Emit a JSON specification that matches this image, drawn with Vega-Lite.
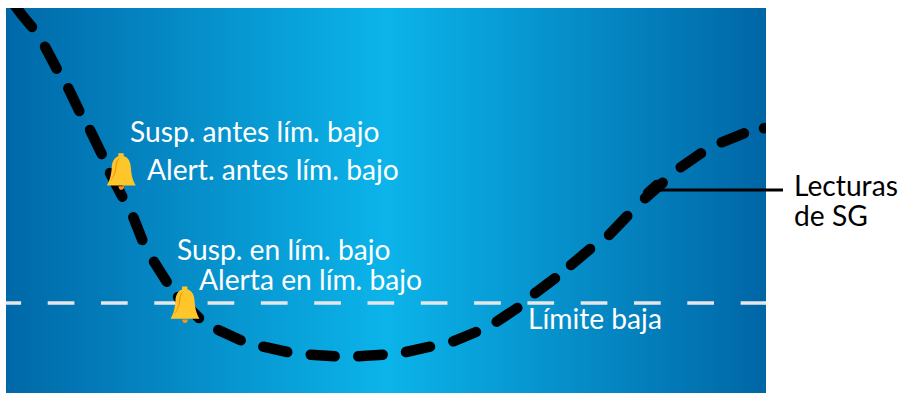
{
"$schema":"https://vega.github.io/schema/vega-lite/v6.json",
"width":760,"height":385,
"autosize":{"type":"none"},
"padding":{"left":6,"top":8,"right":135,"bottom":0},
"background":"#ffffff",
"config":{"view":{"stroke":null}},
"datasets":{
"fondo":[{"x":0,"x2":760,"y":0,"y2":385}],
"limite":[{"x":0,"y":90},{"x":760,"y":90}],
"conector":[{"x":651,"x2":777,"y":203}],
"campanas":[{"x":115.3,"y":221.3},{"x":179,"y":88}],
"blanco":[
{"x":124,"y":251,"t":"Susp. antes lím. bajo"},
{"x":141,"y":213,"t":"Alert. antes lím. bajo"},
{"x":171,"y":133,"t":"Susp. en lím. bajo"},
{"x":193,"y":103,"t":"Alerta en lím. bajo"},
{"x":522,"y":64,"t":"Límite baja"}],
"negro":[
{"x":788,"y":197,"t":"Lecturas"},
{"x":788,"y":167,"t":"de SG"}],
"sg":[
{"d":1,"x":7,"y":390},{"d":1,"x":16,"y":378},{"d":1,"x":26,"y":366},
{"d":2,"x":39,"y":346.3},{"d":2,"x":50.7,"y":324.3},
{"d":3,"x":62.3,"y":304.7},{"d":3,"x":73.3,"y":282},
{"d":4,"x":84,"y":263},{"d":4,"x":95.7,"y":239},
{"d":5,"x":104,"y":220},{"d":5,"x":116.3,"y":196.3},
{"d":6,"x":127.3,"y":175.7},{"d":6,"x":136.3,"y":153},
{"d":7,"x":148,"y":131.3},{"d":7,"x":160.7,"y":111.3},
{"d":8,"x":172,"y":96},{"d":8,"x":193,"y":75},
{"d":9,"x":212.3,"y":63},{"d":9,"x":234.7,"y":52.7},
{"d":10,"x":257.3,"y":46.3},{"d":10,"x":281.3,"y":41},
{"d":11,"x":304.7,"y":38.3},{"d":11,"x":328.7,"y":36.7},
{"d":12,"x":352.3,"y":36.7},{"d":12,"x":376.7,"y":38.3},
{"d":13,"x":400,"y":41},{"d":13,"x":424,"y":46.3},
{"d":14,"x":447.3,"y":51.7},{"d":14,"x":470,"y":61},
{"d":15,"x":490.7,"y":71.3},{"d":15,"x":511.3,"y":85},
{"d":16,"x":529,"y":99.7},{"d":16,"x":549,"y":114.7},
{"d":17,"x":565,"y":128},{"d":17,"x":584,"y":144},
{"d":18,"x":603,"y":158},{"d":18,"x":621.3,"y":177},
{"d":19,"x":639,"y":194.7},{"d":19,"x":656.7,"y":210.3},
{"d":23,"x":642,"y":200},{"d":23,"x":651,"y":208},
{"d":20,"x":674.7,"y":225.7},{"d":20,"x":695,"y":239.7},
{"d":21,"x":715.7,"y":250.7},{"d":21,"x":738,"y":259.7},
{"d":22,"x":758,"y":264.7},{"d":22,"x":770,"y":266}
]
},
"encoding":{
"x":{"field":"x","type":"quantitative","axis":null,"scale":{"domain":[0,760],"nice":false,"zero":false}},
"y":{"field":"y","type":"quantitative","axis":null,"scale":{"domain":[0,385],"nice":false,"zero":false}}
},
"layer":[
{"data":{"name":"fondo"},
 "mark":{"type":"rect","color":{"gradient":"linear","x1":0,"y1":0,"x2":1,"y2":0,"stops":[{"offset":0,"color":"#0068A8"},{"offset":0.5,"color":"#0BB4EA"},{"offset":1,"color":"#0066A6"}]}},
 "encoding":{"x2":{"field":"x2"},"y2":{"field":"y2"}}},
{"data":{"name":"limite"},
 "mark":{"type":"line","color":"#E6E6E6","strokeWidth":3.6,"strokeDash":[26.7,26.6],"strokeDashOffset":11.6,"clip":true}},
{"data":{"name":"sg"},
 "mark":{"type":"line","color":"#000000","strokeWidth":10.5,"strokeCap":"round","clip":true},
 "encoding":{"detail":{"field":"d","type":"nominal"}}},
{"data":{"name":"conector"},
 "mark":{"type":"rule","color":"#000000","strokeWidth":3.2},
 "encoding":{"x2":{"field":"x2"}}},
{"data":{"name":"campanas"},
 "mark":{"type":"point","filled":true,"opacity":1,"size":1369,"color":"#FFC629","shape":"M-0.16 -1 L0.13 -1 L0.13 -0.82 L-0.16 -0.82 Z M-0.78 0.74 C-0.62 0.45 -0.54 0.2 -0.52 -0.2 C-0.5 -0.64 -0.29 -0.86 0 -0.86 C0.29 -0.86 0.5 -0.64 0.52 -0.2 C0.54 0.2 0.62 0.45 0.78 0.74 Z"}},
{"data":{"name":"campanas"},
 "mark":{"type":"point","filled":true,"opacity":1,"size":1369,"color":"#F7941D","shape":"M-0.62 0.55 C-0.42 0.25 -0.34 0 -0.32 -0.3 C-0.3 -0.55 -0.2 -0.72 -0.05 -0.76 C-0.17 -0.66 -0.24 -0.5 -0.25 -0.3 C-0.27 0 -0.37 0.3 -0.62 0.55 Z M-0.16 0.78 L0.16 0.78 C0.14 1.04 -0.14 1.04 -0.16 0.78 Z"}},
{"data":{"name":"blanco"},
 "mark":{"type":"text","align":"left","baseline":"alphabetic","font":"Lato","fontSize":28.2,"color":"#FFFFFF"},
 "encoding":{"text":{"field":"t","type":"nominal"}}},
{"data":{"name":"negro"},
 "mark":{"type":"text","align":"left","baseline":"alphabetic","font":"Lato","fontSize":28.2,"color":"#000000"},
 "encoding":{"text":{"field":"t","type":"nominal"}}}
]
}
